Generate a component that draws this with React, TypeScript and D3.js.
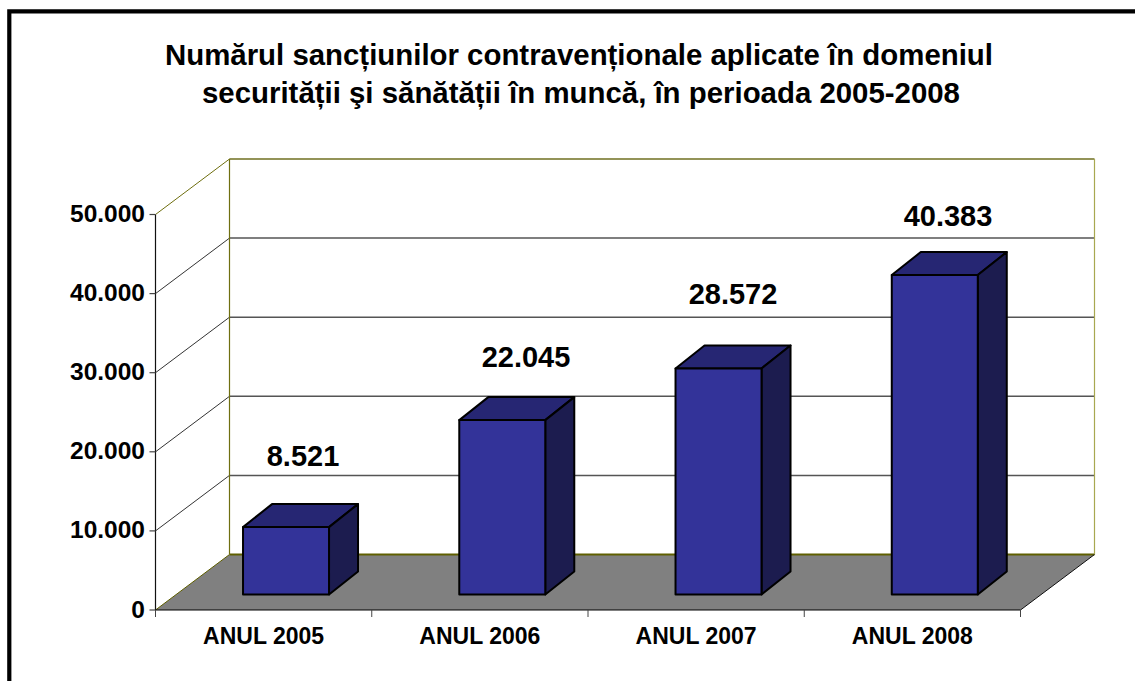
import React from "react";
import * as d3 from "d3";

const titleLines = [
  "Numărul sancțiunilor contravenționale aplicate în domeniul",
  "securității şi sănătății în muncă, în perioada 2005-2008",
];
const categories = ["ANUL 2005", "ANUL 2006", "ANUL 2007", "ANUL 2008"];
const values = [8521, 22045, 28572, 40383];
const valueLabels = ["8.521", "22.045", "28.572", "40.383"];
const yTicks = [0, 10000, 20000, 30000, 40000, 50000];
const yTickLabels = ["0", "10.000", "20.000", "30.000", "40.000", "50.000"];

const FONT = "'Liberation Sans', Arial, sans-serif";
const x0 = 155.5, x1 = 1020.5, y0 = 610, y1 = 214.5;
const depthX = 74, depthY = -55.5;
const barW = 86, barDX = 29, barDY = -23, barInsetY = -15.5, barInsetX = 22.4;

export default function App() {
  const y = d3.scaleLinear().domain([0, 50000]).range([y0, y1]);
  const x = d3.scaleBand().domain(categories).range([x0, x1]);
  const bounds = [x0, ...categories.map((c) => x(c)! + x.bandwidth())];
  const floor = `M${x0},${y0}L${x1},${y0}L${x1 + depthX},${y0 + depthY}L${x0 + depthX},${y0 + depthY}Z`;
  return (
    <svg width={1135} height={681} style={{ position: "absolute", left: 0, top: 0, background: "#fff" }}>
      <path d="M9.3,681V11.3H1135" fill="none" stroke="#000" strokeWidth={4.2} />
      <g fontFamily={FONT} fontWeight="bold" fontSize={29.4} textAnchor="middle" fill="#000">
        <text x={579} y={64.5}>{titleLines[0]}</text>
        <text x={581} y={103}>{titleLines[1]}</text>
      </g>

      <path d={floor} fill="#808080" />
      {yTicks.slice(1).map((t) => {
        const top = t === 50000;
        return (
          <g key={t} fill="none">
            <line x1={x0} y1={y(t)} x2={x0 + depthX} y2={y(t) + depthY} stroke={top ? "#6f6f10" : "#333"} strokeWidth={1} />
            <line x1={x0 + depthX} y1={y(t) + depthY} x2={x1 + depthX} y2={y(t) + depthY} stroke={top ? "#6f6f20" : "#555"} strokeWidth={top ? 1.4 : 1.5} />
          </g>
        );
      })}
      <line x1={x0} y1={y0} x2={x0 + depthX} y2={y0 + depthY} stroke="#5f5f00" strokeWidth={1} />
      <line x1={x0 + depthX} y1={y0 + depthY} x2={x1 + depthX} y2={y0 + depthY} stroke="#5f5f00" strokeWidth={1.8} />
      <line x1={x0 + depthX} y1={y1 + depthY} x2={x0 + depthX} y2={y0 + depthY} stroke="#6f6f10" strokeWidth={1.2} />
      <line x1={x1 + depthX} y1={y1 + depthY} x2={x1 + depthX} y2={y0 + depthY} stroke="#a8a850" strokeWidth={1.2} />
      <line x1={x1} y1={y0} x2={x1 + depthX} y2={y0 + depthY} stroke="#111" strokeWidth={1} />

      <line x1={x0} y1={y1} x2={x0} y2={y0} stroke="#111" strokeWidth={1.2} />
      <line x1={x0} y1={y0} x2={x1} y2={y0} stroke="#000" strokeWidth={1.2} />
      {yTicks.map((t, i) => (
        <g key={t}>
          <line x1={x0 - 6} y1={y(t)} x2={x0} y2={y(t)} stroke="#444" strokeWidth={1.2} />
          <text x={x0 - 10.5} y={y(t) + 7.5} textAnchor="end" fontFamily={FONT} fontWeight="bold" fontSize={24.5}>{yTickLabels[i]}</text>
        </g>
      ))}
      {bounds.map((b, i) => (
        <line key={i} x1={b} y1={y0} x2={b} y2={y0 + 7} stroke="#444" strokeWidth={1} />
      ))}
      {categories.map((c) => (
        <text key={c} x={x(c)! + x.bandwidth() / 2} y={644} textAnchor="middle" fontFamily={FONT} fontWeight="bold" fontSize={23}>{c}</text>
      ))}

      {categories.map((c, i) => {
        const left = x(c)! + (x.bandwidth() - barW) / 2 + barInsetX;
        const right = left + barW;
        const bottom = y0 + barInsetY;
        const top = bottom - (y0 - y(values[i]));
        return (
          <g key={c} stroke="#000" strokeWidth={2} strokeLinejoin="round">
            <path d={`M${left},${top}L${left + barDX},${top + barDY}H${right + barDX}L${right},${top}Z`} fill="#262673" />
            <path d={`M${right},${top}L${right + barDX},${top + barDY}V${bottom + barDY}L${right},${bottom}Z`} fill="#1c1c4f" />
            <rect x={left} y={top} width={barW} height={bottom - top} fill="#333399" />
          </g>
        );
      })}
      {[[303, 466], [526, 367], [733, 304], [948, 226]].map(([lx, ly], i) => (
        <text key={i} x={lx} y={ly} textAnchor="middle" fontFamily={FONT} fontWeight="bold" fontSize={29}>{valueLabels[i]}</text>
      ))}
    </svg>
  );
}
